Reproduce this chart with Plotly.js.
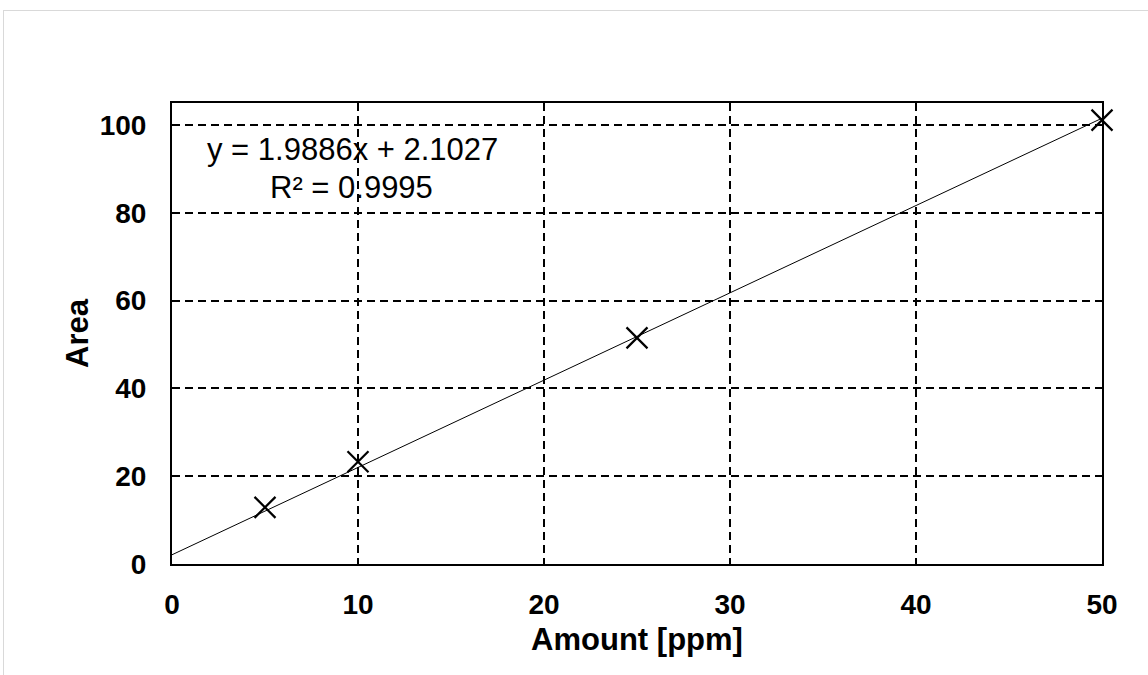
<!DOCTYPE html>
<html>
<head>
<meta charset="utf-8">
<script src="https://cdn.plot.ly/plotly-3.0.1.min.js"></script>
<style>
  html, body { margin: 0; padding: 0; background: #ffffff; }
  #wrap { position: relative; width: 1148px; height: 675px; overflow: hidden; }
  #chart { position: absolute; left: 0; top: 0; width: 1148px; height: 675px; }
  #frame { position: absolute; left: 3px; top: 10px; width: 1160px; height: 700px;
           border-left: 1.5px solid #d9d9d9; border-top: 1.5px solid #d9d9d9; pointer-events: none; }
</style>
</head>
<body>
<div id="wrap">
  <div id="chart"></div>
  <div id="frame"></div>
</div>
<script>
// Data
const amount = [5, 10, 25, 50];          // Amount [ppm]
const area = [12.9, 23.3, 51.5, 101.1];  // Area
// Linear trendline coefficients shown on the chart
const slope = 1.9886;
const intercept = 2.1027;
const r2 = 0.9995;
const trendX = [0, 50];
const xTicks = [0, 10, 20, 30, 40, 50];
const yTicks = [0, 20, 40, 60, 80, 100];

const trendY = trendX.map(x => slope * x + intercept);
const FONT = 'Liberation Sans, Arial, sans-serif';

const traces = [
  {
    x: trendX, y: trendY, type: 'scatter', mode: 'lines',
    line: { color: '#000000', width: 1 }, hoverinfo: 'skip', showlegend: false
  },
  {
    x: amount, y: area, type: 'scatter', mode: 'markers',
    marker: { symbol: 'x-thin-open', size: 21, color: '#000000', line: { color: '#000000', width: 2.2 } },
    showlegend: false, cliponaxis: false
  }
];

const layout = {
  width: 1148, height: 675,
  margin: { l: 172, r: 46, t: 103, b: 111 },
  paper_bgcolor: '#ffffff', plot_bgcolor: '#ffffff',
  showlegend: false,
  font: { family: FONT, color: '#000000' },
  xaxis: {
    range: [0, 50], tickvals: xTicks, ticktext: xTicks.map(String),
    showgrid: true, gridcolor: '#000000', gridwidth: 2, griddash: '8px,5px',
    showline: true, linecolor: '#000000', linewidth: 2, mirror: true,
    ticks: '', zeroline: false, ticklabelstandoff: 14,
    tickfont: { family: FONT, size: 28, color: '#000000', weight: 'bold' },
    title: { text: '<b>Amount [ppm]</b>', font: { family: FONT, size: 31, color: '#000000' }, standoff: 10 }
  },
  yaxis: {
    range: [0, 105], tickvals: yTicks, ticktext: yTicks.map(String),
    showgrid: true, gridcolor: '#000000', gridwidth: 2, griddash: '8px,5px',
    showline: true, linecolor: '#000000', linewidth: 2, mirror: true,
    ticks: '', zeroline: false, ticklabelstandoff: 18,
    tickfont: { family: FONT, size: 28, color: '#000000', weight: 'bold' },
    title: { text: '<b>Area</b>', font: { family: FONT, size: 31, color: '#000000' }, standoff: 2 }
  },
  annotations: [
    {
      xref: 'paper', yref: 'paper', x: (352 - 172) / 930, y: (564 - 149) / 461,
      text: 'y = ' + slope.toFixed(4) + 'x + ' + intercept.toFixed(4),
      showarrow: false, xanchor: 'center', yanchor: 'middle',
      font: { family: FONT, size: 31, color: '#000000' }
    },
    {
      xref: 'paper', yref: 'paper', x: (351 - 172) / 930, y: (564 - 187) / 461,
      text: 'R² = ' + r2.toFixed(4),
      showarrow: false, xanchor: 'center', yanchor: 'middle',
      font: { family: FONT, size: 31, color: '#000000' }
    }
  ]
};

Plotly.newPlot('chart', traces, layout, { displayModeBar: false, staticPlot: true });
</script>
</body>
</html>
